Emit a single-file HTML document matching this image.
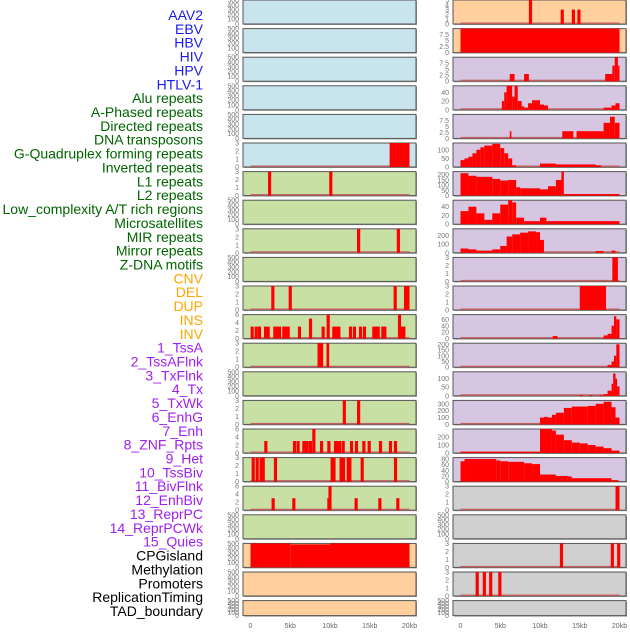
<!DOCTYPE html>
<html><head><meta charset="utf-8"><style>
body{margin:0;background:#fff;width:630px;height:630px;overflow:hidden;font-family:"Liberation Sans",sans-serif}
</style></head><body>
<svg id="c" width="630" height="630" xmlns="http://www.w3.org/2000/svg"></svg>
<script>
const labels=["AAV2","EBV","HBV","HIV","HPV","HTLV-1","Alu repeats","A-Phased repeats","Directed repeats","DNA transposons","G-Quadruplex forming repeats","Inverted repeats","L1 repeats","L2 repeats","Low_complexity A/T rich regions","Microsatellites","MIR repeats","Mirror repeats","Z-DNA motifs","CNV","DEL","DUP","INS","INV","1_TssA","2_TssAFlnk","3_TxFlnk","4_Tx","5_TxWk","6_EnhG","7_Enh","8_ZNF_Rpts","9_Het","10_TssBiv","11_BivFlnk","12_EnhBiv","13_ReprPC","14_ReprPCWk","15_Quies","CPGisland","Methylation","Promoters","ReplicationTiming","TAD_boundary"];
const labelColors=["#1a1aee","#1a1aee","#1a1aee","#1a1aee","#1a1aee","#1a1aee","#006400","#006400","#006400","#006400","#006400","#006400","#006400","#006400","#006400","#006400","#006400","#006400","#006400","#ffa500","#ffa500","#ffa500","#ffa500","#ffa500","#a020f0","#a020f0","#a020f0","#a020f0","#a020f0","#a020f0","#a020f0","#a020f0","#a020f0","#a020f0","#a020f0","#a020f0","#a020f0","#a020f0","#a020f0","#000","#000","#000","#000","#000"];
const xTicks=[0,5,10,15,20];
const xTickLabels=["0","5kb","10kb","15kb","20kb"];
// spikes: [position kb, value]; blocks: [start kb, end kb, value]
const L5=[[17.5,20,3]];
const L6=[[2.4,3],[10.1,3]];
const L8=[[13.6,3],[18.6,3]];
const L10=[[2.81,3],[5.0,3],[18.2,3],[19.5,3],[19.8,3]];
const L11=[[0.21,3],[0.72,3],[1.13,3],[1.89,3],[2.22,3],[3.06,3],[3.35,3],[3.65,3],[4.19,3],[4.49,3],[4.74,3],[6.16,3],[7.55,5],[9.14,3],[9.77,6],[10.48,3],[10.77,3],[11.11,3],[12.58,3],[13.08,3],[13.84,3],[14.34,3],[15.51,3],[15.81,3],[16.06,3],[16.65,3],[16.9,3],[18.74,6],[19.08,3],[19.29,3]];
const L12=[[8.43,9.14,3],[9.56,9.9,3]];
const L14=[[11.8,3],[13.6,3]];
const L15=[[1.93,3],[5.53,3],[5.99,3],[6.71,3],[6.92,3],[7.13,3],[7.55,3],[7.97,6],[8.94,3],[9.86,3],[10.69,3],[10.99,3],[11.2,3],[11.66,3],[12.71,3],[13.33,3],[14.26,3],[14.93,3],[16.35,3],[17.61,3],[18.24,3]];
const L16=[[0.34,3],[0.84,3],[1.34,3],[1.6,3],[3.14,3],[10.27,3],[10.5,3],[11.4,3],[11.7,3],[12.29,3],[12.5,3],[14.05,3],[18.24,3]];
const L17=[[2.85,3],[5.45,3],[9.86,3],[10.0,6],[13.29,3],[16.27,3],[18.53,3]];
const L19=[[0,5,500],[5,10,480],[10,20,500]];
const R0=[[8.8,5],[12.8,3],[14.2,3],[14.9,3]];
const R1=[[0,20,10]];
const R2=[[6.2,6.8,3],[8.0,8.6,3],[18.2,19.1,3],[19.1,19.4,6.5],[19.4,19.8,10],[19.8,20,6.5]];
const R3=[[5.2,5.5,20],[5.5,5.8,40],[5.8,6.5,55],[6.5,6.8,30],[6.8,7.2,55],[7.2,7.7,20],[7.7,8,8],[8,8.5,5],[8.5,9,15],[9,10,22],[10,10.5,12],[10.5,11,10],[18,19,5],[19,19.5,10],[19.5,20,15]];
const R4=[[6.2,6.4,3],[12.8,14.2,3],[14.6,18,3],[18,18.8,6.5],[18.8,19.4,9],[19.4,20,6.5]];
const R5=[[0,0.5,40],[0.5,1,50],[1,1.5,60],[1.5,2,80],[2,2.5,100],[2.5,3,115],[3,4,125],[4,5,135],[5,5.5,110],[5.5,6,80],[6,6.5,50],[6.5,7,10],[10,12,20],[12,17,15],[17,17.7,10]];
const R6=[[0,1,215],[1,2,190],[2,4,180],[4,5,160],[5,6,145],[6,7,150],[7,7.5,80],[7.5,10,70],[10,11,60],[11,12,90],[12,12.7,150],[12.7,13,230],[13,20,15]];
const R7=[[0,1,30],[1,2,40],[2,3,25],[3,4,10],[4,5,25],[5,6,45],[6,6.5,55],[6.5,7,50],[7,8,15],[8,10,7],[10,10.8,15],[10.8,20,7]];
const R8=[[0,1,50],[1,2,40],[2,4,25],[4,5,40],[5,5.8,80],[5.8,6.5,190],[6.5,7.5,215],[7.5,8.5,235],[8.5,9.5,250],[9.5,10,240],[10,10.5,150],[17,18,20],[19,19.5,25]];
const R9=[[19.1,19.8,3]];
const R10=[[15,18.3,3]];
const R11=[[11.6,12.2,8],[18,18.5,10],[18.5,19,15],[19,19.3,40],[19.3,19.6,70],[19.6,20,60]];
const R12=[[18.5,19,20],[19,19.3,50],[19.3,19.6,100],[19.6,20,200]];
const R13=[[15,15.4,5],[16.2,16.6,5],[17.5,17.9,5],[18,18.5,10],[18.5,19,30],[19,19.2,70],[19.2,19.5,130],[19.5,19.7,100],[19.7,20,55]];
const R14=[[10,10.5,100],[10.5,11,110],[11,11.5,100],[11.5,12,140],[12,13,170],[13,14,240],[14,16,260],[16,17,270],[17,18,300],[18,19,330],[19,19.5,250],[19.5,20,100]];
const R15=[[0,10,15],[10,11.5,300],[11.5,12,280],[12,13,230],[13,14,160],[14,15,130],[15,16,120],[16,17,100],[17,18,80],[18,19,60],[19,20,30]];
const R16=[[0,0.5,72],[0.5,4.5,80],[4.5,5,75],[5,6,72],[6,8,70],[8,9,65],[9,10,62],[10,12,25],[12,13.5,20],[13.5,14,18],[14,19,12],[19,19.8,5]];
const R17=[[19.5,20,3]];
const R19=[[12.7,3],[19.1,3],[19.9,3]];
const R20=[[2.1,3],[3.0,3],[3.8,3],[4.95,3]];

const BL="#c8e4ec",GR="#c8e0a4",OR="#ffcf9e",PU="#d6c6e2",GY="#d0d0d0";
const T500=[0,100,200,300,400,500],T3=[0,1,2,3],T6=[0,2,4,6],T75=[0,2.5,5,7.5];
const left=[
[BL,T500,500,null],[BL,T500,500,null],[BL,T500,500,null],[BL,T500,500,null],[BL,T500,500,null],
[BL,T3,3,L5],[GR,T3,3,L6],[GR,T500,500,null],[GR,T3,3,L8],[GR,T500,500,null],[GR,T3,3,L10],
[GR,T6,6,L11],[GR,T3,3,L12],[GR,T500,500,null],[GR,T3,3,L14],[GR,T6,6,L15],[GR,T3,3,L16],
[GR,T6,6,L17],[GR,T500,500,null],[OR,T500,500,L19],[OR,T500,500,null],[OR,T500,500,null]];
const right=[
[OR,[0,1,2,3,4,5],5,R0],[OR,T75,10,R1],[PU,T75,10,R2],[PU,[0,20,40],55,R3],[PU,T75,10,R4],
[PU,[0,50,100],140,R5],[PU,[0,50,100,150,200],230,R6],[PU,[0,20,40],55,R7],[PU,[0,100,200],280,R8],
[PU,T3,3,R9],[PU,T3,3,R10],[PU,[0,20,40,60],75,R11],[PU,[0,50,100,150,200],210,R12],
[PU,[0,50,100],140,R13],[PU,[0,100,200,300],350,R14],[PU,[0,100,200],300,R15],
[PU,[0,20,40,60,80],85,R16],[GY,T3,3,R17],[GY,T500,500,null],[GY,T3,3,R19],[GY,T3,3,R20],[GY,T500,500,null]];

const svg=document.getElementById('c');
const NS="http://www.w3.org/2000/svg";
function mk(tag,attrs,parent){const e=document.createElementNS(NS,tag);for(const k in attrs)e.setAttribute(k,attrs[k]);(parent||svg).appendChild(e);return e;}

labels.forEach((t,i)=>{
  const e=mk('text',{x:203,y:20+i*13.86,'text-anchor':'end','font-size':14,fill:labelColors[i]});
  e.textContent=t;
  
  
});

function drawCol(panels,px,x0){
  const xs=kb=>x0+kb*7.95;
  panels.forEach((p,i)=>{
    const top=i*28.6, h=(i==21?15:24);
    const g=mk('g',{});
    
    
    mk('rect',{x:px+1,y:top+1,width:173,height:h,fill:'#999'},g);
    mk('rect',{x:px,y:top,width:173,height:h,fill:p[0],stroke:'#555','stroke-width':1},g);
    const ys=v=>top+h-v/p[2]*h;
    p[1].forEach(v=>{
      const t=mk('text',{x:px-4,y:ys(v)+2.5,'text-anchor':'end','font-size':7,fill:'#777'},g);
      t.textContent=v;
      
      
    });
    if(p[3]){
      mk('rect',{x:xs(0),y:top+h-1.5,width:xs(20)-xs(0),height:1.5,fill:'#c06060'},g);
      p[3].forEach(d=>{
        let a,b,v;
        if(d.length==2){a=d[0]-0.2;b=d[0]+0.2;v=d[1];}else{a=d[0];b=d[1];v=d[2];}
        const r=mk('rect',{x:xs(a),y:ys(v),width:Math.max(1,xs(b)-xs(a)),height:top+h-ys(v),fill:'#ff0000'},g);
        
        
      });
    }
  });
  xTicks.forEach((k,j)=>{
    const t=mk('text',{x:xs(k),y:628,'text-anchor':'middle','font-size':7,fill:'#666'});
    t.textContent=xTickLabels[j];
    
    
  });
}
drawCol(left,243,250.5);
drawCol(right,453,460.5);
</script>
</body></html>
